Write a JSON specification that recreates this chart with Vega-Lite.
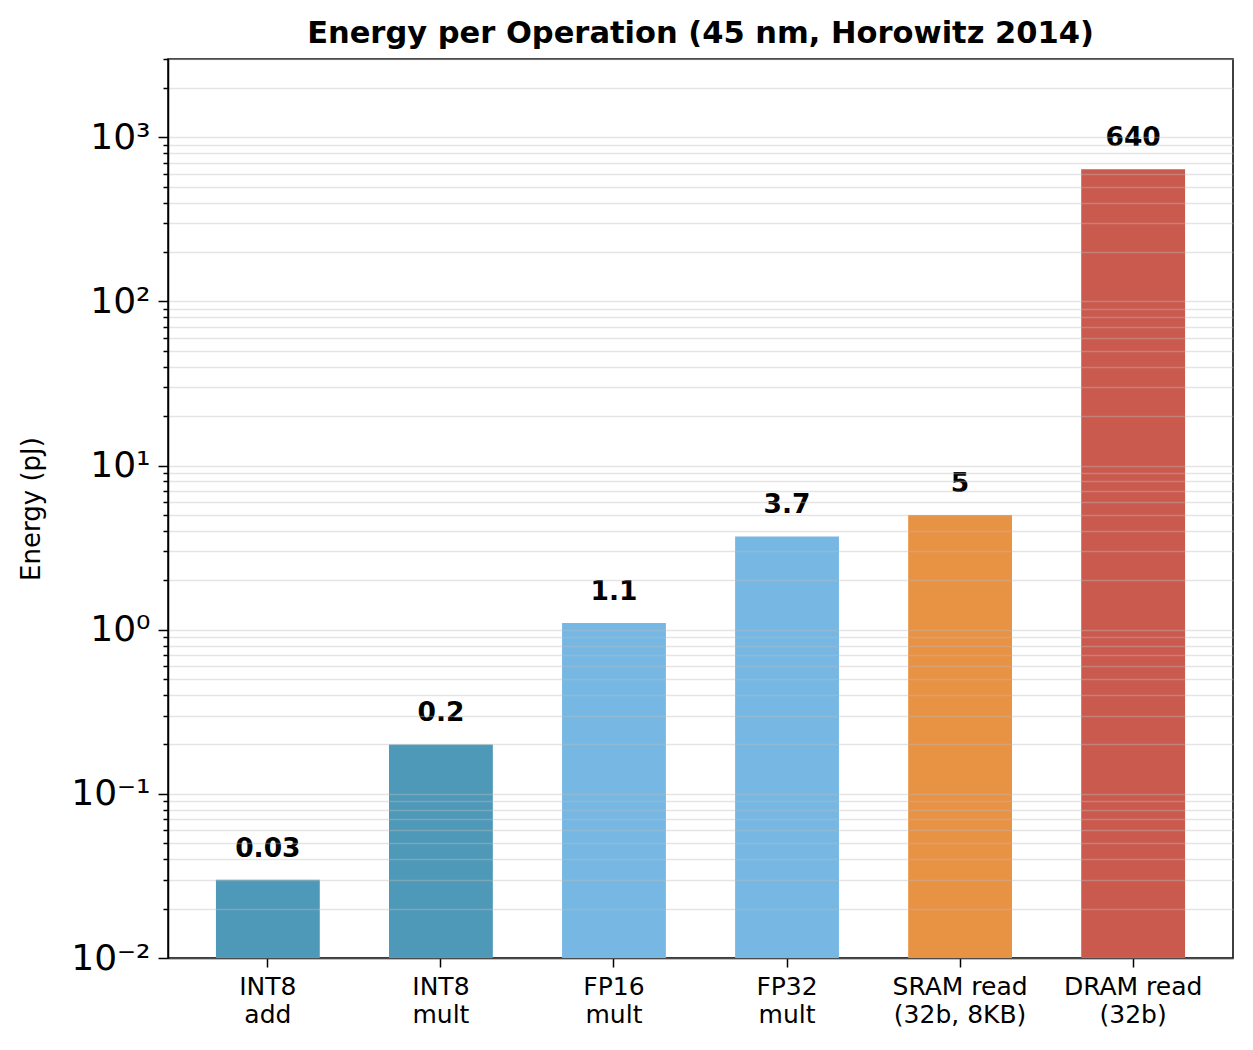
{
  "$schema": "https://vega.github.io/schema/vega-lite/v6.json",
  "autosize": {"type": "none"},
  "width": 1065,
  "height": 899,
  "padding": {"left": 168, "top": 59, "right": 20, "bottom": 92},
  "background": "white",
  "title": {
    "text": "Energy per Operation (45 nm, Horowitz 2014)",
    "font": "DejaVu Sans",
    "fontSize": 30.5,
    "fontWeight": "bold",
    "color": "black",
    "anchor": "middle",
    "frame": "group",
    "offset": -8
  },
  "config": {
    "font": "DejaVu Sans",
    "view": {"stroke": "black", "strokeWidth": 1.5}
  },
  "data": {
    "values": [
      {"op": "INT8\nadd", "energy": 0.03, "kind": "int"},
      {"op": "INT8\nmult", "energy": 0.2, "kind": "int"},
      {"op": "FP16\nmult", "energy": 1.1, "kind": "fp"},
      {"op": "FP32\nmult", "energy": 3.7, "kind": "fp"},
      {"op": "SRAM read\n(32b, 8KB)", "energy": 5, "kind": "sram"},
      {"op": "DRAM read\n(32b)", "energy": 640, "kind": "dram"}
    ]
  },
  "encoding": {
    "x": {
      "field": "op",
      "type": "nominal",
      "sort": null,
      "scale": {"paddingInner": 0.4, "paddingOuter": 0.277},
      "axis": {
        "title": null,
        "labelAngle": 0,
        "labelExpr": "split(datum.label, '\\n')",
        "labelFont": "DejaVu Sans",
        "labelFontSize": 25,
        "labelColor": "black",
        "labelLineHeight": 28,
        "labelPadding": 7,
        "tickSize": 9,
        "tickWidth": 1.5,
        "tickColor": "black",
        "domainColor": "black",
        "domainWidth": 1.5,
        "grid": false
      }
    },
    "y": {
      "field": "energy",
      "type": "quantitative",
      "scale": {"type": "log", "domain": [0.01, 3000], "nice": false},
      "axis": {
        "title": "Energy (pJ)",
        "titleFont": "DejaVu Sans",
        "titleFontSize": 26,
        "titleFontWeight": "normal",
        "titleColor": "black",
        "titleAngle": -90,
        "titleX": -129,
        "titleY": 449.5,
        "titleAlign": "center",
        "titleBaseline": "alphabetic",
        "values": [0.01, 0.02, 0.03, 0.04, 0.05, 0.06, 0.07, 0.08, 0.09,
                   0.1, 0.2, 0.3, 0.4, 0.5, 0.6, 0.7, 0.8, 0.9,
                   1, 2, 3, 4, 5, 6, 7, 8, 9,
                   10, 20, 30, 40, 50, 60, 70, 80, 90,
                   100, 200, 300, 400, 500, 600, 700, 800, 900,
                   1000, 2000, 3000],
        "labelExpr": "datum.value == 1000 ? '10³' : datum.value == 100 ? '10²' : datum.value == 10 ? '10¹' : datum.value == 1 ? '10⁰' : datum.value == 0.1 ? '10⁻¹' : datum.value == 0.01 ? '10⁻²' : ''",
        "labelFont": "DejaVu Sans",
        "labelFontSize": 36,
        "labelColor": "black",
        "labelPadding": 8,
        "labelOverlap": false,
        "labelBound": false,
        "labelFlush": false,
        "tickColor": "black",
        "tickWidth": 1.5,
        "tickSize": {"condition": {"test": "indexof([0.01, 0.1, 1, 10, 100, 1000], datum.value) >= 0", "value": 10}, "value": 5},
        "domainColor": "black",
        "domainWidth": 1.5,
        "grid": true,
        "gridColor": "#bbbbbb",
        "gridOpacity": 0.4,
        "gridWidth": 1.5,
        "zindex": 1
      }
    }
  },
  "layer": [
    {
      "mark": {"type": "bar"},
      "encoding": {
        "y2": {"datum": 0.01},
        "color": {
          "field": "kind",
          "type": "nominal",
          "scale": {
            "domain": ["int", "fp", "sram", "dram"],
            "range": ["#4e98b8", "#76b7e4", "#e89244", "#ca594e"]
          },
          "legend": null
        }
      }
    },
    {
      "mark": {
        "type": "text",
        "font": "DejaVu Sans",
        "fontSize": 26.5,
        "fontWeight": "bold",
        "color": "black",
        "baseline": "alphabetic",
        "align": "center",
        "dy": -23
      },
      "encoding": {
        "text": {"field": "energy", "type": "quantitative", "format": "~g"}
      }
    }
  ]
}
